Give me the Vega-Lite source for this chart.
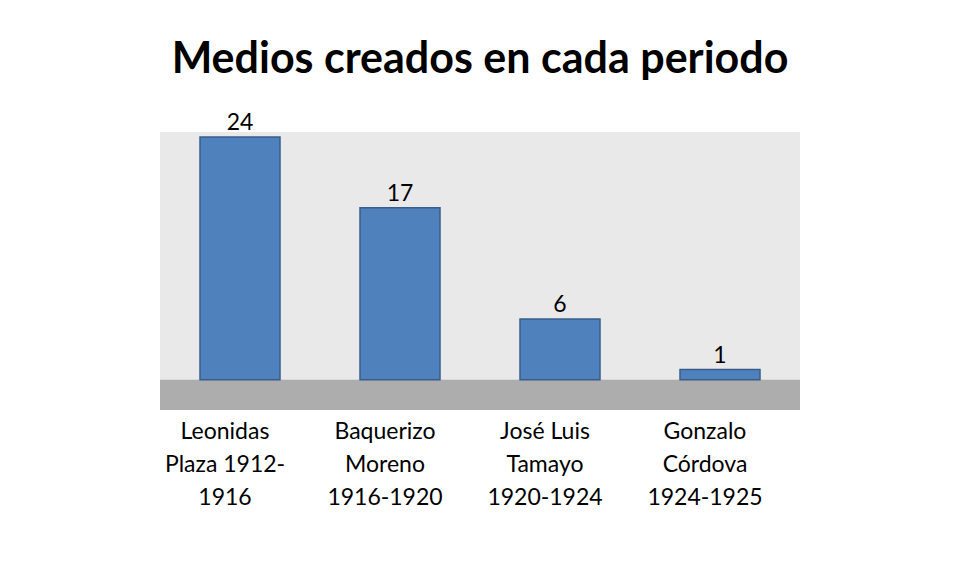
{
  "$schema": "https://vega.github.io/schema/vega-lite/v6.json",
  "autosize": {"type": "none"},
  "width": 640,
  "height": 278,
  "padding": {"left": 160, "top": 132, "right": 155, "bottom": 163},
  "background": "white",
  "title": {
    "text": "Medios creados en cada periodo",
    "font": "Lato",
    "fontSize": 43,
    "fontWeight": "bold",
    "color": "black",
    "anchor": "middle",
    "offset": 30
  },
  "data": {
    "values": [
      {"periodo": "Leonidas|Plaza 1912-|1916", "medios": 24, "orden": 1},
      {"periodo": "Baquerizo|Moreno|1916-1920", "medios": 17, "orden": 2},
      {"periodo": "José Luis|Tamayo|1920-1924", "medios": 6, "orden": 3},
      {"periodo": "Gonzalo|Córdova|1924-1925", "medios": 1, "orden": 4}
    ]
  },
  "config": {
    "view": {"fill": "#E9E9E9", "stroke": null},
    "axis": {"grid": false}
  },
  "resolve": {"scale": {"y": "shared"}},
  "layer": [
    {
      "data": {"values": [{"piso": -3, "base": 0}]},
      "mark": {"type": "rect", "color": "#ADADAD"},
      "encoding": {
        "x": {"value": 0},
        "x2": {"value": "width"},
        "y": {"field": "piso", "type": "quantitative", "scale": {"domain": [-3, 24.5], "nice": false, "zero": false}, "axis": null},
        "y2": {"field": "base"}
      }
    },
    {
      "mark": {"type": "bar", "color": "#4F81BD", "stroke": "#385D8A", "strokeWidth": 1.5},
      "encoding": {
        "x": {
          "field": "periodo",
          "type": "nominal",
          "sort": {"field": "orden"},
          "scale": {"paddingInner": 0.5, "paddingOuter": 0.25},
          "axis": {
            "title": null,
            "domain": false,
            "ticks": false,
            "labelAngle": 0,
            "labelFont": "Lato",
            "labelFontSize": 23,
            "labelColor": "black",
            "labelPadding": 10,
            "labelOffset": -15,
            "labelLineHeight": 33,
            "labelExpr": "split(datum.label, '|')"
          }
        },
        "y": {"field": "medios", "type": "quantitative", "scale": {"domain": [-3, 24.5], "nice": false, "zero": false}, "axis": null}
      }
    },
    {
      "mark": {"type": "text", "dy": -14, "font": "Lato", "fontSize": 23, "color": "black"},
      "encoding": {
        "x": {"field": "periodo", "type": "nominal", "sort": {"field": "orden"}},
        "y": {"field": "medios", "type": "quantitative"},
        "text": {"field": "medios", "type": "quantitative"}
      }
    }
  ]
}
